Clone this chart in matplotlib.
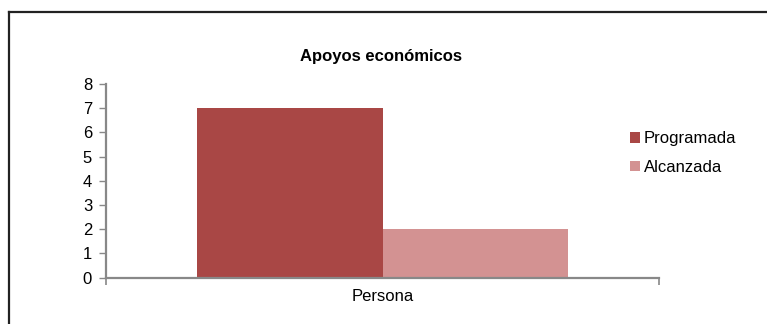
import matplotlib.pyplot as plt
from matplotlib.lines import Line2D

plt.rcParams['font.family'] = ['Liberation Sans', 'DejaVu Sans']

# Datos del grafico
categorias = ['Persona']
programada = [7]
alcanzada = [2]
series = ['Programada', 'Alcanzada']
colores = ['#A94745', '#D39292']

W, H = 767, 324
fig = plt.figure(figsize=(W / 100, H / 100), dpi=100)
ax = fig.add_axes([106 / W, 1 - 277.7 / H, 553 / W, (277.7 - 84) / H])

x = list(range(len(categorias)))
ancho = 0.335
ax.bar([i - ancho / 2 for i in x], programada, width=ancho, color=colores[0], label=series[0])
ax.bar([i + ancho / 2 for i in x], alcanzada, width=ancho, color=colores[1], label=series[1])

ax.set_xlim(-0.5, len(categorias) - 0.5)
ax.set_ylim(0, 8)
ax.set_yticks(range(0, 9))
ax.set_xticks(x)
ax.set_xticklabels(categorias)
ax.set_xticks([-0.5, len(categorias) - 0.5], minor=True)

gris = '#888888'
for s in ['top', 'right']:
    ax.spines[s].set_visible(False)
for s in ['left', 'bottom']:
    ax.spines[s].set_color(gris)
    ax.spines[s].set_linewidth(1.6)

ax.tick_params(axis='y', length=5, width=1, color=gris, labelsize=12, pad=5)
ax.tick_params(axis='x', which='major', length=0, labelsize=12, pad=8)
ax.tick_params(axis='x', which='minor', length=5, width=1.2, color=gris)

fig.text(381 / W, 1 - 57 / H, 'Apoyos económicos', ha='center', va='center',
         fontsize=12, fontweight='bold')

ax.legend(loc='upper left', bbox_to_anchor=(622 / W, 1 - 123 / H),
          bbox_transform=fig.transFigure, frameon=False, fontsize=12,
          handlelength=0.6, handleheight=0.6, handletextpad=0.2,
          labelspacing=0.8, borderpad=0)

# marco del grafico (solo visible arriba y a la izquierda)
fig.add_artist(Line2D([9 / W, 9 / W], [0, 1 - 11.7 / H], color='#222222', lw=1.6))
fig.add_artist(Line2D([9 / W, 1], [1 - 11.7 / H, 1 - 11.7 / H], color='#222222', lw=1.6))

fig.savefig('out.png', dpi=100)
